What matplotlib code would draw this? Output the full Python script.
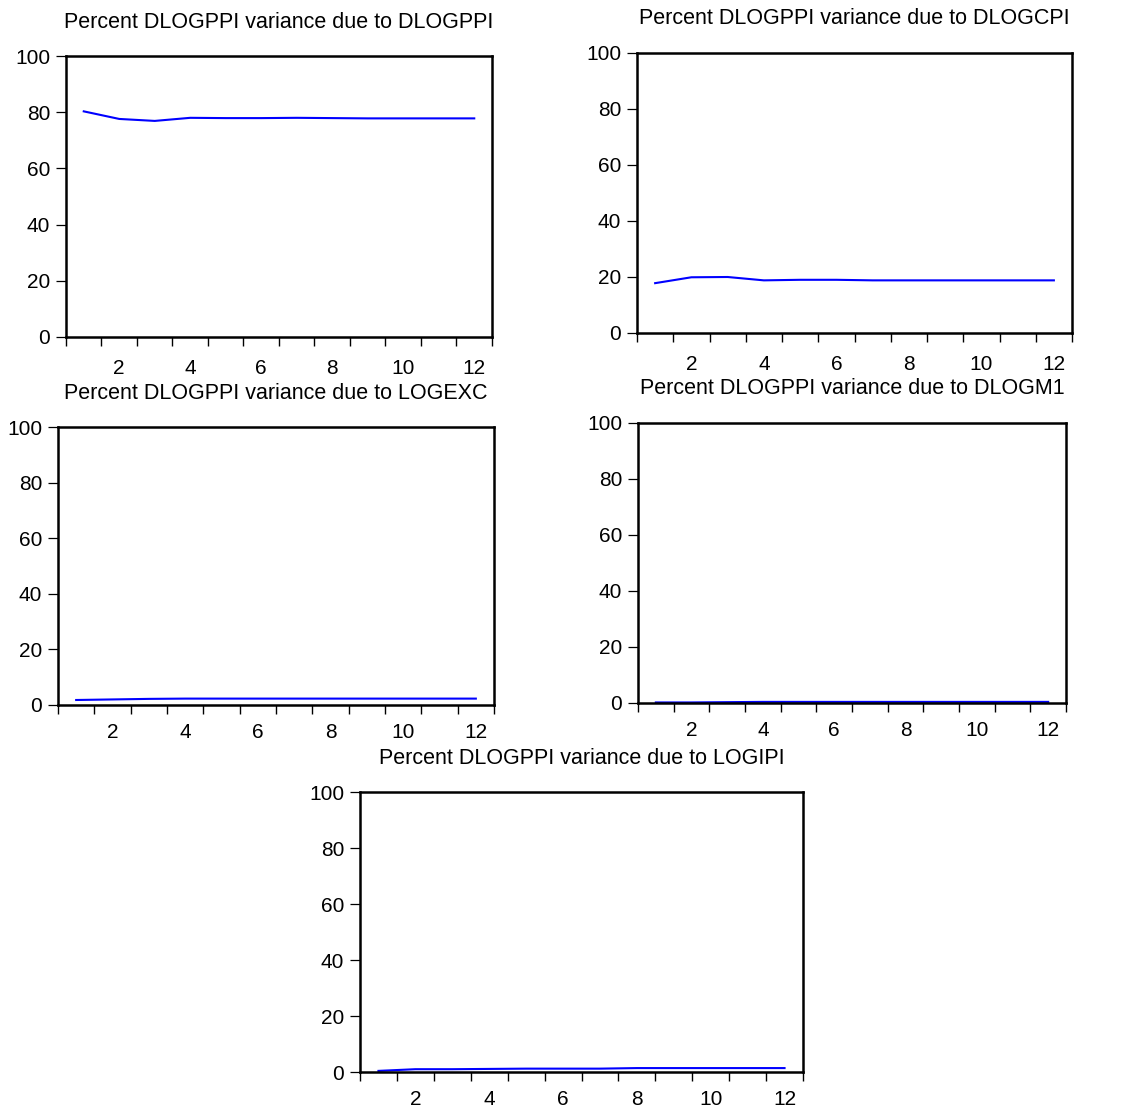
import numpy as np
import matplotlib
matplotlib.use("Agg")
import matplotlib.pyplot as plt

plt.rcParams['font.family'] = ['Liberation Sans', 'DejaVu Sans']

# forecast horizon
periods = list(range(1, 13))

# variance decomposition of DLOGPPI (percent)
due_dlogppi = [80.3, 77.6, 76.9, 78.0, 77.9, 77.9, 78.0, 77.9, 77.8, 77.8, 77.8, 77.8]
due_dlogcpi = [17.8, 19.9, 20.0, 18.8, 19.0, 19.0, 18.8, 18.8, 18.8, 18.8, 18.8, 18.8]
due_logexc = [1.8, 2.0, 2.2, 2.3, 2.3, 2.3, 2.3, 2.3, 2.3, 2.3, 2.3, 2.3]
due_dlogm1 = [0.2, 0.2, 0.3, 0.4, 0.4, 0.4, 0.4, 0.4, 0.4, 0.4, 0.4, 0.4]
due_logipi = [0.4, 1.0, 1.0, 1.1, 1.2, 1.2, 1.2, 1.4, 1.4, 1.4, 1.4, 1.4]

titles = ["Percent DLOGPPI variance due to DLOGPPI",
          "Percent DLOGPPI variance due to DLOGCPI",
          "Percent DLOGPPI variance due to LOGEXC",
          "Percent DLOGPPI variance due to DLOGM1",
          "Percent DLOGPPI variance due to LOGIPI"]
series = [due_dlogppi, due_dlogcpi, due_logexc, due_dlogm1, due_logipi]
xlabel_pad = [16, 16, 13, 13, 13]

W, H = 1121, 1111
# frame boxes in pixels: left, top, right, bottom
boxes = [(66, 56, 492, 337),
         (637, 53, 1072, 333),
         (58, 427, 494, 705),
         (638, 423, 1066, 703),
         (360, 792, 803, 1072)]

fig = plt.figure(figsize=(W / 100, H / 100), dpi=100)

for (l, t, r, b), title, vals, xp in zip(boxes, titles, series, xlabel_pad):
    ax = fig.add_axes([l / W, 1 - b / H, (r - l) / W, (b - t) / H])
    ax.plot(periods, vals, color='#0000ff', lw=1.5)
    ax.set_xlim(0.5, 12.5)
    ax.set_ylim(0, 100)
    ax.set_yticks([0, 20, 40, 60, 80, 100])
    ax.set_xticks(np.arange(0.5, 13, 1))
    ax.set_xticklabels([])
    ax.set_xticks([2, 4, 6, 8, 10, 12], minor=True)
    ax.set_xticklabels(['2', '4', '6', '8', '10', '12'], minor=True)
    ax.tick_params(axis='y', which='major', direction='out', length=7,
                   width=0.9, labelsize=15, pad=4.5, color='black')
    ax.tick_params(axis='x', which='major', direction='out', length=6.5,
                   width=1.0, color='black')
    ax.tick_params(axis='x', which='minor', length=0, labelsize=15, pad=xp)
    for s in ax.spines.values():
        s.set_linewidth(1.8)
    ax.text(0.5, 1.0 + 34 / (b - t), title, transform=ax.transAxes,
            ha='center', va='center', fontsize=15.5)

fig.savefig('out.png', dpi=100)
